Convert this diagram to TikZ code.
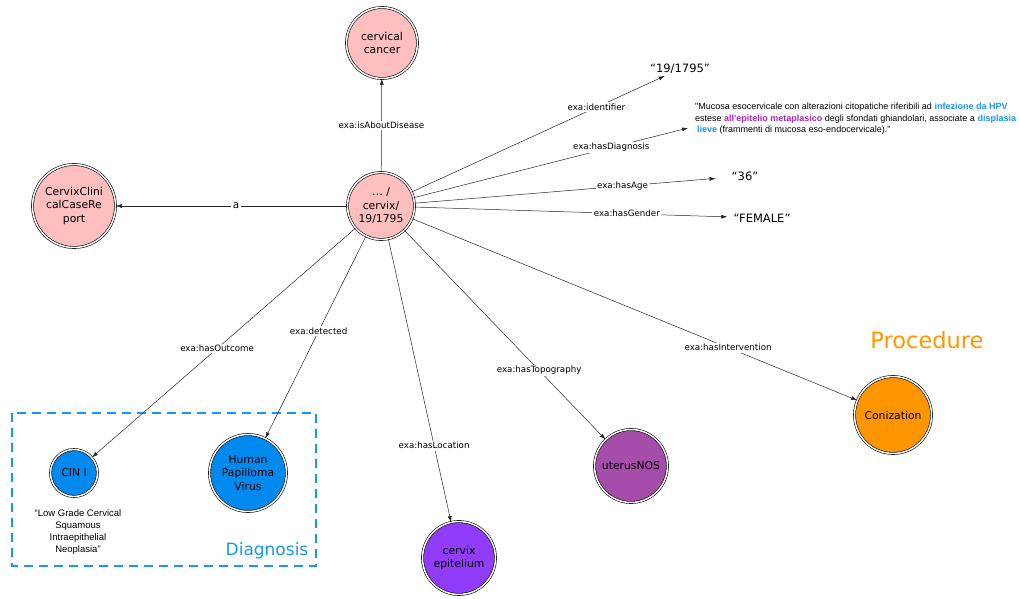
\documentclass[tikz,border=0pt]{standalone}
\usepackage{fontspec}
\setmainfont{DejaVu Sans}
\newfontfamily\notefont{Liberation Sans}
\usetikzlibrary{arrows.meta}
\definecolor{Pfill}{RGB}{255,191,191}
\definecolor{Dblue}{RGB}{0,138,240}
\definecolor{Lviolet}{RGB}{145,60,250}
\definecolor{Tpurple}{RGB}{166,76,170}
\definecolor{Corange}{RGB}{255,150,0}
\definecolor{Gblue}{RGB}{25,150,245}
\definecolor{Mpurple}{RGB}{170,40,180}

\begin{document}
\begin{tikzpicture}[x=1pt,y=1pt,line cap=round,
  res/.style={circle,draw,line width=0.6pt,double,double distance=1.5pt,inner sep=0pt,align=center,font=\fontsize{10.8}{13.5}\selectfont},
  lit/.style={inner sep=2pt,font=\fontsize{11.5}{13}\selectfont},
  rel/.style={draw=black!85,line width=0.5pt,-{Latex[length=6pt,width=4pt]}},
  lbl/.style={fill=white,inner sep=1.5pt,font=\fontsize{8.7}{10}\selectfont}]
\path[use as bounding box] (0,0) rectangle (1019,599);
\node[res,fill=Pfill,minimum size=67pt] (report) at (381,393) {… /\\cervix/\\19/1795};
\node[res,fill=Pfill,minimum size=71pt] (disease) at (382,556) {cervical\\cancer};
\node[res,fill=Pfill,minimum size=83pt] (type) at (74,393) {CervixClini\\calCaseRe\\port};
\node[lit] (id) at (680,530) {“19/1795”};
\node[anchor=west,inner sep=2pt,align=left,font=\notefont\fontsize{9}{11.5}\selectfont] (diag) at (693,480) {"Mucosa esocervicale con alterazioni citopatiche riferibili ad \textcolor{Gblue}{\bfseries infezione da HPV}\\estese \textcolor{Mpurple}{\bfseries all'epitelio metaplasico} degli sfondati ghiandolari, associate a \textcolor{Gblue}{\bfseries displasia}\\\hspace*{2pt}\textcolor{Gblue}{\bfseries lieve} (frammenti di mucosa eso-endocervicale)."};
\node[lit] (age) at (745,423) {“36”};
\node[lit] (gender) at (762,381) {“FEMALE”};
\node[res,fill=Dblue,minimum size=47pt] (cin) at (74,126) {CIN I};
\node[res,fill=Dblue,minimum size=77pt] (hpv) at (248,126) {Human\\Papilloma\\Virus};
\node[res,fill=Lviolet,minimum size=73pt] (epi) at (459,41) {cervix\\epitelium};
\node[res,fill=Tpurple,minimum size=73pt] (uterus) at (631,133) {uterusNOS};
\node[res,fill=Corange,minimum size=77pt] (coniz) at (893,184) {Conization};
\node[align=center,font=\notefont\fontsize{9.5}{12}\selectfont] (cinnote) at (78,67) {“Low Grade Cervical\\Squamous\\Intraepithelial\\Neoplasia”};
\draw[Gblue,line width=1.8pt,dash pattern=on 9pt off 6pt,line cap=butt] (12,186) rectangle (316,33);
\node[text=Gblue,font=\fontsize{17}{20}\selectfont] (diaglbl) at (267,48) {Diagnosis};
\node[text=Corange,font=\fontsize{22.5}{26}\selectfont] (proclbl) at (927,259) {Procedure};
\draw[rel] (report) -- node[lbl,pos=.5]{exa:isAboutDisease} (disease);
\draw[rel] (report) -- node[lbl,pos=.48,font=\fontsize{10.5}{11}\selectfont]{a} (type);
\draw[rel] (report) -- node[lbl,pos=.73]{exa:identifier} (id);
\draw[rel] (report) -- node[lbl,pos=.72]{exa:hasDiagnosis} ([shift={(-5pt,-9pt)}]diag.west);
\draw[rel,shorten >=14pt] (report) -- node[lbl,pos=.66]{exa:hasAge} (age);
\draw[rel,shorten >=4pt] (report) -- node[lbl,pos=.67]{exa:hasGender} (gender);
\draw[rel] (report) -- node[lbl,pos=.525]{exa:hasOutcome} (cin);
\draw[rel] (report) -- node[lbl,pos=.47]{exa:detected} (hpv);
\draw[rel] (report) -- node[lbl,pos=.73]{exa:hasLocation} (epi);
\draw[rel] (report) -- node[lbl,pos=.67]{exa:hasTopography} (uterus);
\draw[rel] (report) -- node[lbl,pos=.71]{exa:hasIntervention} (coniz);
\end{tikzpicture}
\end{document}
